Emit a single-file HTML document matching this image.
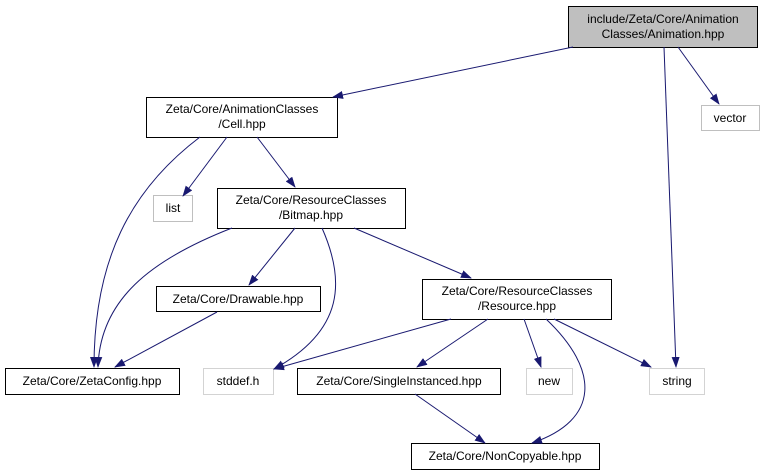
<!DOCTYPE html>
<html><head><style>body{margin:0;background:#fff}svg{display:block}text{font-family:"Liberation Sans",sans-serif;font-size:12px;fill:#000}</style></head><body>
<svg width="761" height="475" viewBox="0 0 761 475" xmlns="http://www.w3.org/2000/svg">
<defs><marker id="a" markerWidth="11" markerHeight="8" refX="10" refY="4" orient="auto" markerUnits="userSpaceOnUse"><path d="M0,0 L11,4 L0,8z" fill="#191970"/></marker></defs>
<g stroke-width="1">
<rect x="568.5" y="6.5" width="189" height="41" fill="#bfbfbf" stroke="#000"/>
<rect x="146.5" y="97.5" width="191" height="40" fill="#fff" stroke="#000"/>
<rect x="701.5" y="105.5" width="58" height="25" fill="#fff" stroke="#bfbfbf"/>
<rect x="153.5" y="195.5" width="39" height="26" fill="#fff" stroke="#bfbfbf"/>
<rect x="217.5" y="188.5" width="188" height="40" fill="#fff" stroke="#000"/>
<rect x="156.5" y="286.5" width="164" height="25" fill="#fff" stroke="#000"/>
<rect x="422.5" y="279.5" width="189" height="40" fill="#fff" stroke="#000"/>
<rect x="5.5" y="368.5" width="174" height="26" fill="#fff" stroke="#000"/>
<rect x="203.5" y="368.5" width="70" height="26" fill="#fff" stroke="#d3d3d3"/>
<rect x="297.5" y="368.5" width="203" height="26" fill="#fff" stroke="#000"/>
<rect x="526.5" y="368.5" width="46" height="26" fill="#fff" stroke="#d3d3d3"/>
<rect x="649.5" y="368.5" width="55" height="26" fill="#fff" stroke="#d3d3d3"/>
<rect x="411.5" y="443.5" width="188" height="26" fill="#fff" stroke="#000"/>
</g>
<g fill="none" stroke="#191970" stroke-width="1" marker-end="url(#a)">
<path d="M573,47 L333,97"/>
<path d="M678,47 L719,104"/>
<path d="M664,47 L676,367"/>
<path d="M227,137 L183,196"/>
<path d="M257,137 L295,187"/>
<path d="M200,137 C130,190 94,260 94,367"/>
<path d="M232,228 C150,260 100,300 98,367"/>
<path d="M295,228 L249,285"/>
<path d="M322,228 C345,280 345,330 274,369"/>
<path d="M354,228 L471,278"/>
<path d="M217,312 L115,367"/>
<path d="M451,319 L274,369"/>
<path d="M488,319 L417,367"/>
<path d="M524,319 L541,367"/>
<path d="M554,319 L651,367"/>
<path d="M546,319 C600,370 600,420 532,443"/>
<path d="M415,394 L485,443"/>
</g>
<g text-anchor="middle">
<text x="663" y="23">include/Zeta/Core/Animation</text><text x="663" y="38">Classes/Animation.hpp</text>
<text x="242" y="113">Zeta/Core/AnimationClasses</text><text x="242" y="128">/Cell.hpp</text>
<text x="730" y="122">vector</text>
<text x="173" y="212">list</text>
<text x="311" y="204">Zeta/Core/ResourceClasses</text><text x="311" y="219">/Bitmap.hpp</text>
<text x="238" y="303">Zeta/Core/Drawable.hpp</text>
<text x="517" y="295">Zeta/Core/ResourceClasses</text><text x="517" y="310">/Resource.hpp</text>
<text x="92" y="385">Zeta/Core/ZetaConfig.hpp</text>
<text x="238" y="385">stddef.h</text>
<text x="399" y="385">Zeta/Core/SingleInstanced.hpp</text>
<text x="549" y="385">new</text>
<text x="677" y="385">string</text>
<text x="505" y="460">Zeta/Core/NonCopyable.hpp</text>
</g>
</svg>
</body></html>
